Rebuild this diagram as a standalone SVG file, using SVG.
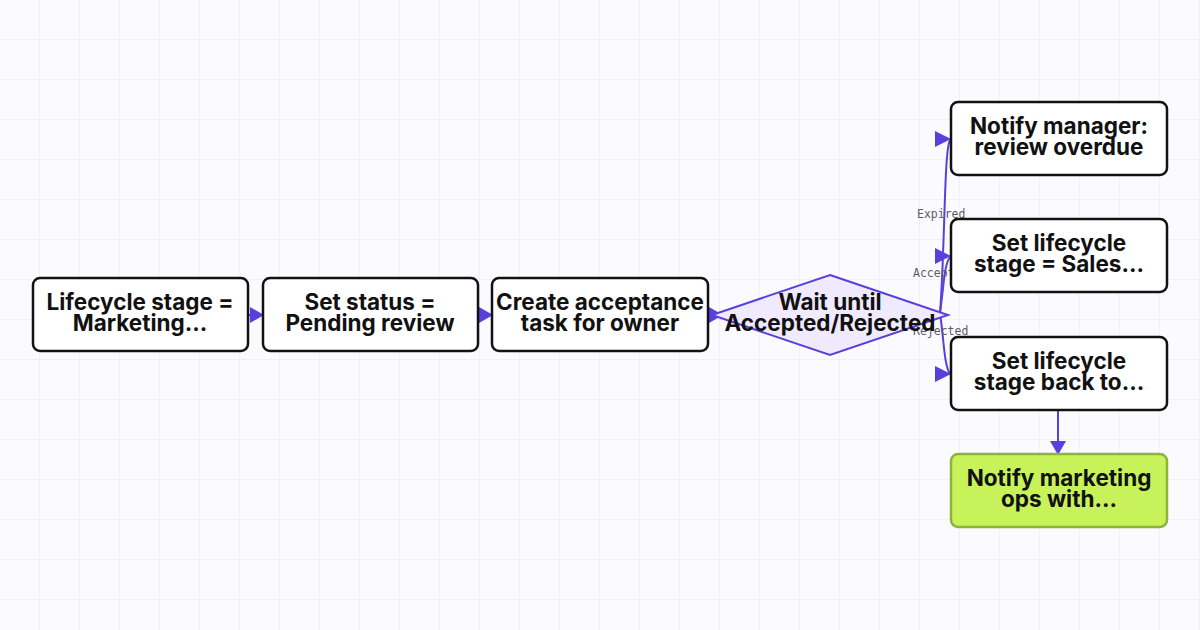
<svg xmlns="http://www.w3.org/2000/svg" width="1200" height="630" viewBox="0 0 1200 630">
<defs>
<pattern id="grid" width="40" height="40" patternUnits="userSpaceOnUse"><path d="M40 0V40M0 40H40" fill="none" stroke="#e8e4f5" stroke-width="1"/></pattern>
<marker id="ah" markerWidth="14" markerHeight="16" refX="13" refY="8" orient="auto" markerUnits="userSpaceOnUse"><path d="M0 0L14 8L0 16Z" fill="#5a3fdc"/></marker>
</defs>
<style>
.n{fill:#fff;stroke:#121212;stroke-width:2.5}
.t{font-family:Inter,"DejaVu Sans",sans-serif;font-weight:700;font-size:22.5px;fill:#111;text-anchor:middle}
.e{fill:none;stroke:#5a3fdc;stroke-width:2}
.a{fill:#5a3fdc}
.l{font-family:"DejaVu Sans Mono","Liberation Mono",monospace;font-size:11.5px;fill:#5c5c66}
</style>
<rect width="1200" height="630" fill="#fbfaff"/>
<rect width="1200" height="630" fill="url(#grid)"/>
<g id="connectors">
<path class="e" d="M248 315H263" marker-end="url(#ah)"/>
<path class="e" d="M478 315H492" marker-end="url(#ah)"/>
<path class="e" d="M708 315H722" marker-end="url(#ah)"/>
<path class="e" d="M940 313C945 250 944 150 950 140"/>
<path class="e" d="M940 313C944 285 944 265 950 257"/>
<path class="e" d="M940 313C944 340 944 365 950 374"/>
<path class="a" d="M935 131L951 139L935 147Z"/>
<path class="a" d="M935 248L951 256L935 264Z"/>
<path class="a" d="M935 366L951 374L935 382Z"/>
<path class="e" d="M1058 410V454" marker-end="url(#ah)"/>
<text class="l" x="917" y="218">Expired</text>
<text class="l" x="913" y="277">Accepted</text>
<text class="l" x="913" y="335">Rejected</text>
</g>
<g id="n1"><rect class="n" x="33" y="278" width="215" height="73" rx="7"/><text class="t" x="140" y="310">Lifecycle stage =</text><text class="t" x="140" y="331">Marketing...</text></g>
<g id="n2"><rect class="n" x="263" y="278" width="215" height="73" rx="7"/><text class="t" x="370" y="310">Set status =</text><text class="t" x="370" y="331">Pending review</text></g>
<g id="n3"><rect class="n" x="492" y="278" width="216" height="73" rx="7"/><text class="t" x="600" y="310">Create acceptance</text><text class="t" x="600" y="331">task for owner</text></g>
<g id="n4"><path d="M830 275L948 315L830 355L712 315Z" fill="#efeafd" stroke="#5a3fdc" stroke-width="2"/><text class="t" x="830" y="310">Wait until</text><text class="t" x="830" y="331">Accepted/Rejected</text></g>
<g id="n5"><rect class="n" x="951" y="102" width="216" height="73" rx="7"/><text class="t" x="1059" y="134">Notify manager:</text><text class="t" x="1059" y="155">review overdue</text></g>
<g id="n6"><rect class="n" x="951" y="219" width="216" height="73" rx="7"/><text class="t" x="1059" y="251">Set lifecycle</text><text class="t" x="1059" y="272">stage = Sales...</text></g>
<g id="n7"><rect class="n" x="951" y="337" width="216" height="73" rx="7"/><text class="t" x="1059" y="369">Set lifecycle</text><text class="t" x="1059" y="390">stage back to...</text></g>
<g id="n8"><rect x="951" y="454" width="216" height="73" rx="7" fill="#c8f25a" stroke="#8fb33a" stroke-width="2.5"/><text class="t" x="1059" y="486">Notify marketing</text><text class="t" x="1059" y="507">ops with...</text></g>
</svg>
